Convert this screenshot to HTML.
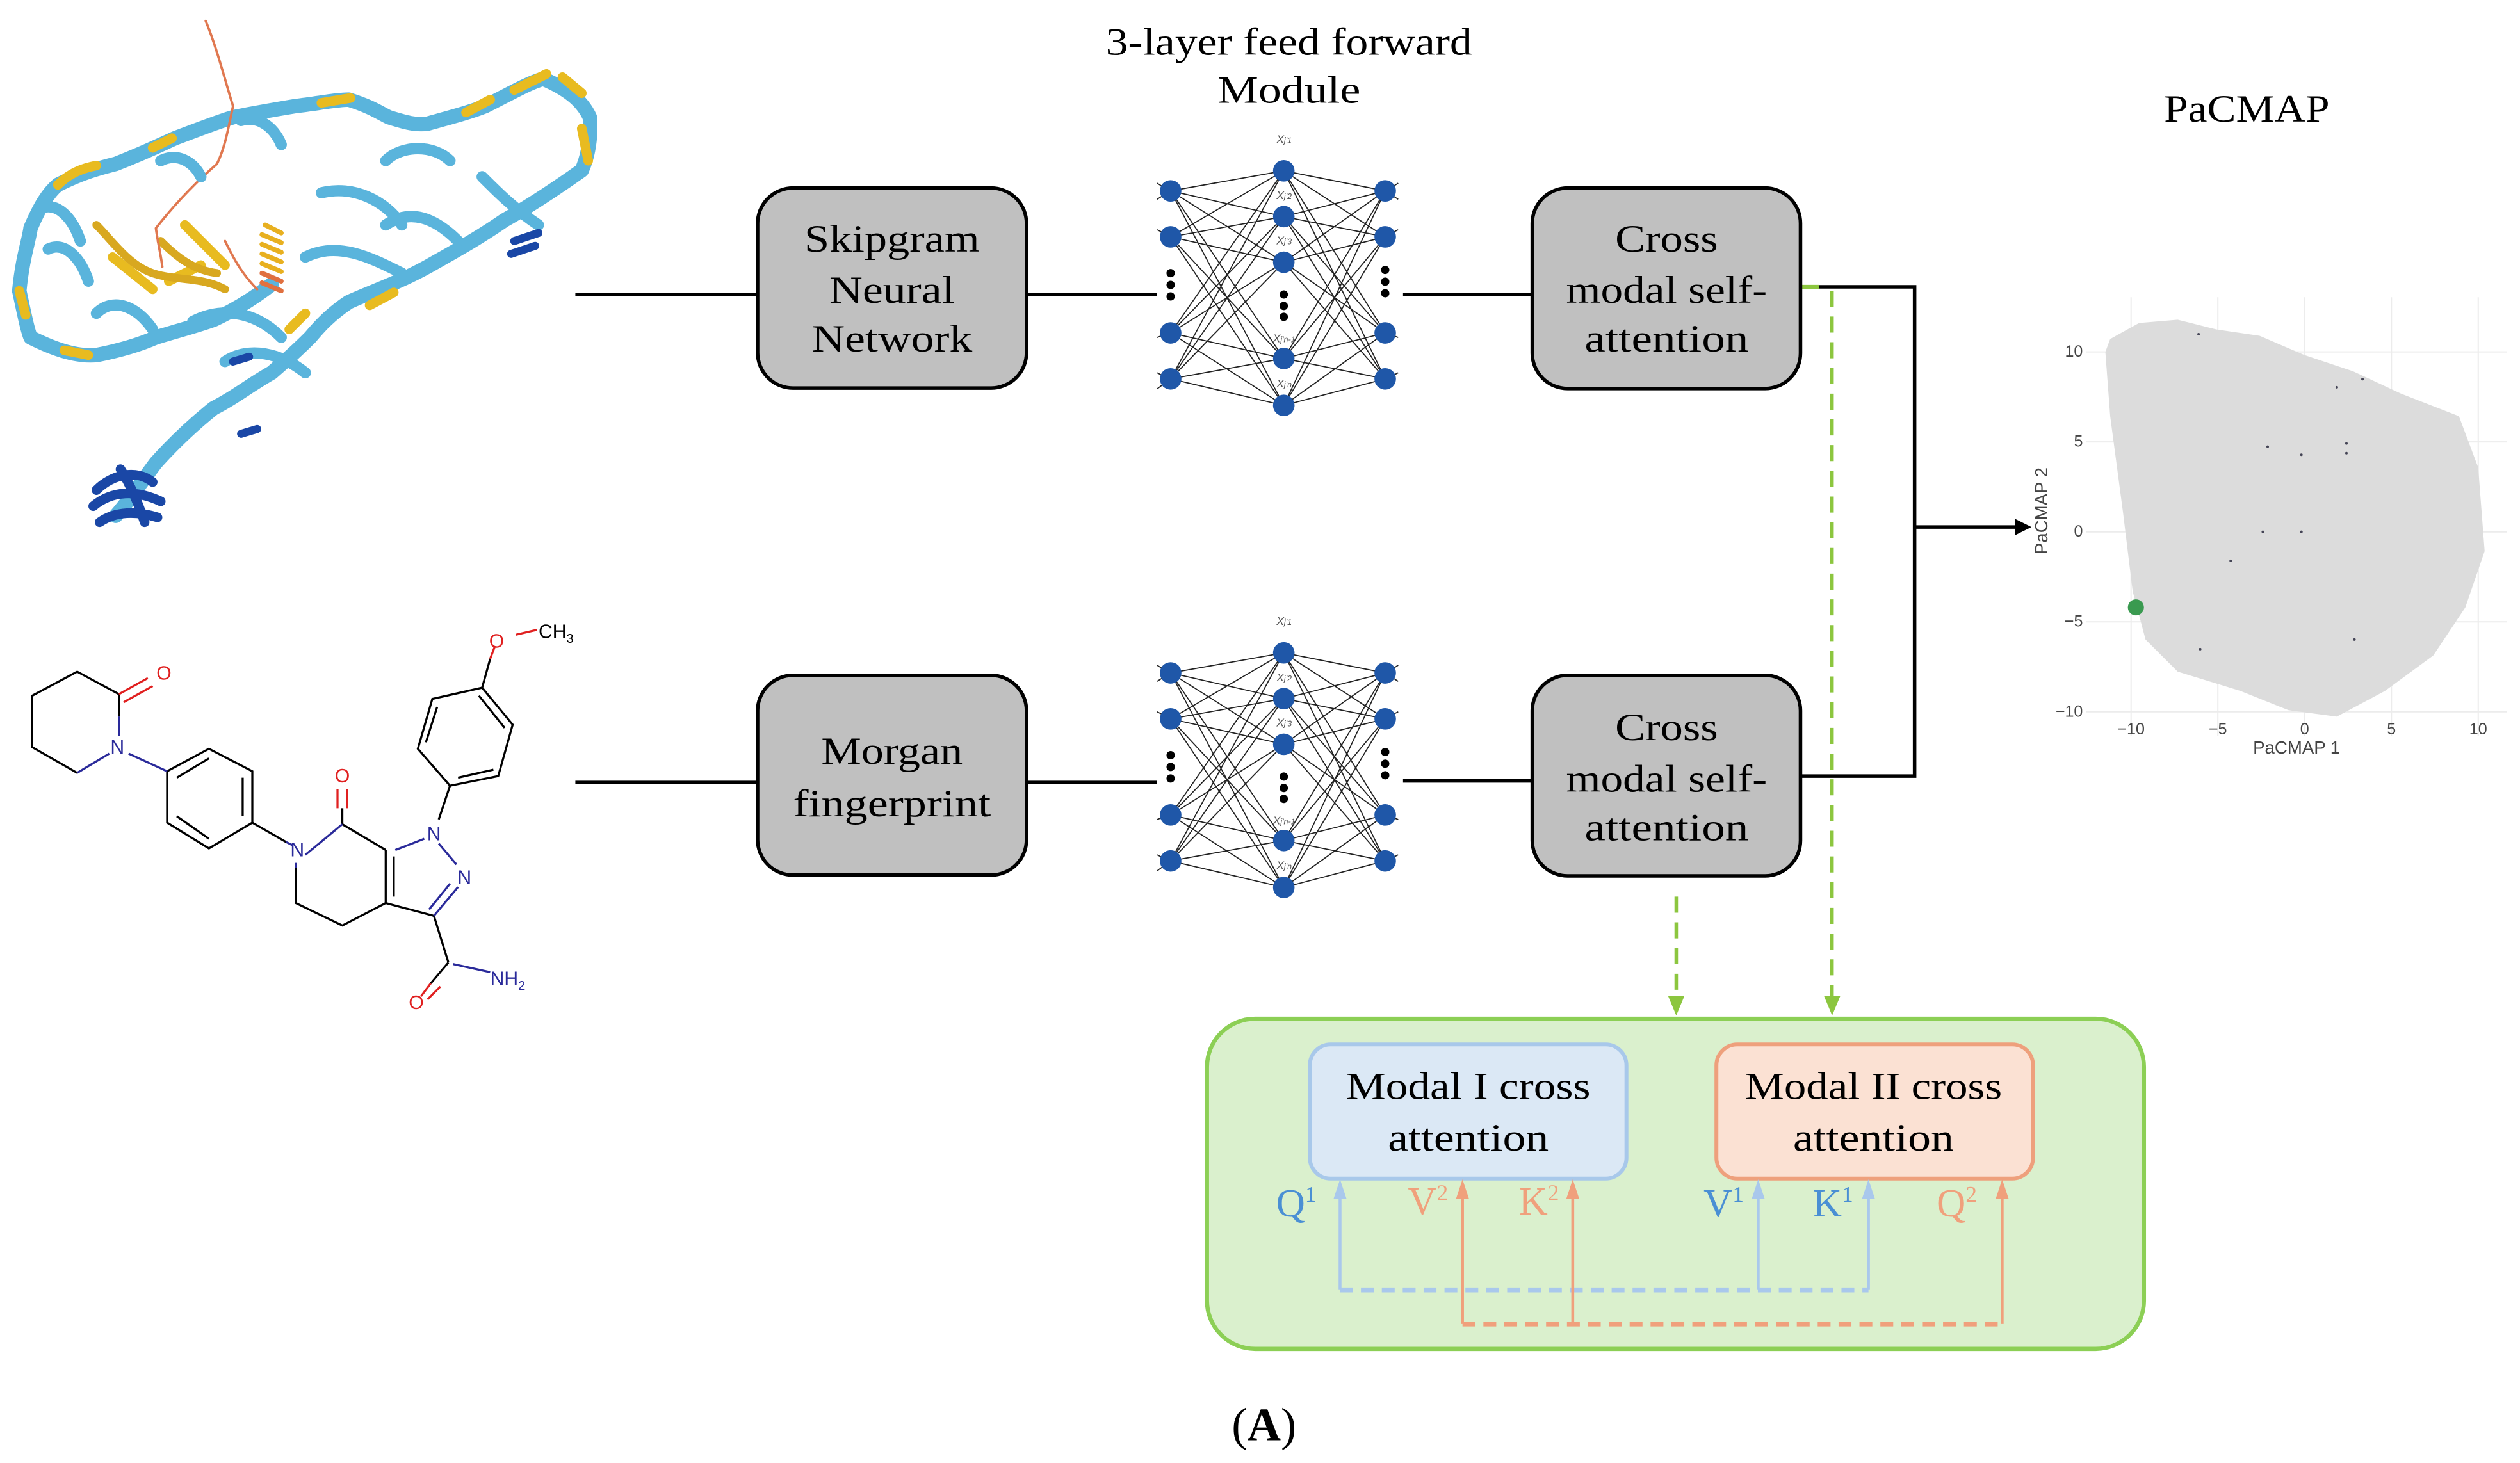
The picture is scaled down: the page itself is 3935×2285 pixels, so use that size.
<!DOCTYPE html>
<html><head><meta charset="utf-8"><style>
html,body{margin:0;padding:0;background:#fff;}
svg{display:block;}
.serif{font-family:"Liberation Serif",serif;}
.sans{font-family:"Liberation Sans",sans-serif;}
</style></head><body>
<svg width="3935" height="2285" viewBox="0 0 1568 910.5" xmlns="http://www.w3.org/2000/svg">
<defs>
<marker id="ab" markerWidth="10" markerHeight="10" refX="8" refY="5" orient="auto" markerUnits="userSpaceOnUse"><path d="M0,0 L10,5 L0,10 z" fill="#000"/></marker>
</defs>
<rect width="1568" height="910.5" fill="#fff"/>

<!-- Protein (approximation) -->
<g fill="none" stroke-linecap="round" stroke-linejoin="round">
<path d="M12,181 C14,160 18,150 19,142 C25,128 30,120 36,115 C50,108 60,105 72,102 C90,95 100,90 109,86 C125,80 135,76 145,73 C160,70 172,68 184,66 C200,64 210,62 217,62 C230,66 236,70 242,73 C252,76 258,78 266,77 C280,73 292,70 302,66 C318,58 328,52 338,49 C352,55 362,62 367,73 C368,85 366,97 362,106 C345,118 330,128 314,137 C295,150 280,158 266,166 C248,176 230,182 217,188 C205,196 198,204 193,210 C185,218 176,226 169,232 C155,240 145,248 133,254 C118,266 106,278 97,288 C88,300 80,312 72,321" stroke="#5ab4dc" stroke-width="9"/>
<path d="M12,181 C15,195 17,205 19,210 C35,218 48,222 60,221 C75,218 88,214 97,210 C110,206 122,203 133,199 C148,192 160,184 169,177" stroke="#5ab4dc" stroke-width="9"/>
<path d="M36,115 C45,106 55,104 60,103 M95,92 l12,-6 M200,64 l18,-3 M290,70 l15,-8 M320,56 l20,-10 M350,48 l12,10 M362,80 l4,20 M12,181 l4,15 M40,218 l15,3 M180,205 l10,-10 M230,190 l15,-8 M70,160 l25,20 M105,175 l20,-10 M115,140 l25,25" stroke="#e8bb20" stroke-width="6"/>
<path d="M60,140 C70,150 80,165 95,170 C110,175 125,172 140,180 M100,150 C110,160 120,168 135,170" stroke="#d8a820" stroke-width="5"/>
<path d="M128,13 C135,30 140,50 145,66 C142,80 140,92 135,102 C120,115 108,128 97,142 C98,150 100,158 101,166 M140,150 C145,160 150,170 160,180" stroke="#e07850" stroke-width="1.5"/>
<path d="M165,140 l10,5 M163,146 l12,5 M163,152 l12,5 M163,158 l12,5 M163,164 l12,5" stroke="#e8b020" stroke-width="3"/>
<path d="M163,170 l12,5 M163,176 l12,5" stroke="#e07040" stroke-width="3"/>
<path d="M200,120 C220,115 240,125 250,140 M190,160 C210,150 230,160 250,170 M240,100 C250,90 270,90 280,100 M300,110 C310,120 320,130 335,140 M120,200 C140,190 160,195 175,210 M140,225 C155,215 175,220 190,232 M60,195 C70,185 85,190 95,205 M25,130 C35,125 45,135 50,150 M30,155 C40,150 50,160 55,175 M100,100 C110,95 120,100 125,110 M150,75 C160,72 170,78 175,90 M240,140 C255,130 270,135 285,150"
 stroke="#5ab4dc" stroke-width="7"/>
<path d="M60,305 C70,295 85,292 95,300 M58,315 C70,305 85,305 100,312 M62,325 C72,318 85,318 98,322 M75,292 C80,300 85,310 90,325" stroke="#1a47a6" stroke-width="6"/>
<path d="M320,150 l15,-5 M318,158 l15,-5 M145,225 l10,-3 M150,270 l10,-3" stroke="#1a47a6" stroke-width="5"/>
</g>

<!-- Molecule -->
<g fill="none" stroke-width="1.3">
<g stroke="#000">
<path d="M48,418 L74,432 M48,418 L20,433 L20,465 L48,481"/>
<path d="M74,432 L74,446"/>
<path d="M104,480 L130,466 L157,480 L157,512 L130,528 L104,512 Z"/>
<path d="M110,484 L130,472 M151,484 L151,508 M110,508 L130,522"/>
<path d="M157,512 L178,524"/>
<path d="M213,513 L240,529 M240,529 L240,562 M245,533 L245,558 M240,562 L270,570 M240,562 L213,576 L184,562 L184,540"/>
<path d="M213,513 L213,503"/>
<path d="M270,570 L279,599"/>
<path d="M280,489 L310,483 L319,451 L300,428 L269,435 L260,466 Z"/>
<path d="M285,484 L307,479 M314,453 L298,433 M265,462 L272,440"/>
<path d="M300,428 L305,410 M280,489 L273,510"/>
<path d="M279,599 L268,612"/>
</g>
<g stroke="#e02020">
<path d="M74,432 L92,422 M77,437 L95,427 M210,503 L210,491 M216,503 L216,491 M305,410 L308,402 M268,612 L262,620 M274,614 L266,622"/>
<path d="M321,395 L334,392"/>
</g>
<g stroke="#2a2a9a">
<path d="M74,446 L74,458 M68,469 L48,481 M80,469 L104,480 M190,532 L213,513 M178,524 L182,526 M184,540 L184,537 M246,529 L264,522 M273,525 L284,538 M285,552 L270,570 M280,550 L267,566 M282,600 L305,605"/>
</g>
<g class="sans" font-size="12" text-anchor="middle">
<text x="73" y="469" fill="#2a2a9a">N</text>
<text x="102" y="423" fill="#e02020">O</text>
<text x="185" y="533" fill="#2a2a9a">N</text>
<text x="213" y="487" fill="#e02020">O</text>
<text x="270" y="523" fill="#2a2a9a">N</text>
<text x="289" y="550" fill="#2a2a9a">N</text>
<text x="309" y="403" fill="#e02020">O</text>
<text x="346" y="397" fill="#000">CH<tspan font-size="8" dy="3">3</tspan></text>
<text x="259" y="628" fill="#e02020">O</text>
<text x="316" y="613" fill="#2a2a9a">NH<tspan font-size="8" dy="3">2</tspan></text>
</g>
</g>

<!-- connector lines -->
<g stroke="#000" stroke-width="2.2" fill="none">
<line x1="358" y1="183.3" x2="471" y2="183.3"/>
<line x1="639" y1="183.3" x2="720" y2="183.3"/>
<line x1="873" y1="183.3" x2="953" y2="183.3"/>
<line x1="358" y1="487" x2="471" y2="487"/>
<line x1="639" y1="487" x2="720" y2="487"/>
<line x1="873" y1="486" x2="953" y2="486"/>
<polyline points="1131,178.5 1191.3,178.5 1191.3,483 1120,483"/>
<line x1="1191.3" y1="328" x2="1262" y2="328" marker-end="url(#ab)"/>
</g>
<line x1="1120" y1="178.5" x2="1132" y2="178.5" stroke="#8cc63f" stroke-width="2.5"/>

<!-- boxes -->
<g fill="#c0c0c0" stroke="#000" stroke-width="2.2">
<rect x="471.4" y="117" width="167.3" height="124.5" rx="22"/>
<rect x="471.4" y="420.3" width="167.3" height="124.3" rx="22"/>
<rect x="953.4" y="117" width="166.9" height="124.8" rx="22"/>
<rect x="953.4" y="420.3" width="166.9" height="124.8" rx="22"/>
</g>
<g class="serif" font-size="24" text-anchor="middle" fill="#000">
<text x="555" y="156.6" textLength="109" lengthAdjust="spacingAndGlyphs">Skipgram</text>
<text x="555" y="188.5" textLength="78" lengthAdjust="spacingAndGlyphs">Neural</text>
<text x="555" y="218.8" textLength="100" lengthAdjust="spacingAndGlyphs">Network</text>
<text x="555" y="475.4" textLength="88" lengthAdjust="spacingAndGlyphs">Morgan</text>
<text x="555" y="508" textLength="123" lengthAdjust="spacingAndGlyphs">fingerprint</text>
<text x="1037" y="156.6" textLength="64" lengthAdjust="spacingAndGlyphs">Cross</text>
<text x="1037" y="188.5" textLength="125" lengthAdjust="spacingAndGlyphs">modal self-</text>
<text x="1037" y="218.8" textLength="102" lengthAdjust="spacingAndGlyphs">attention</text>
<text x="1037" y="460.6" textLength="64" lengthAdjust="spacingAndGlyphs">Cross</text>
<text x="1037" y="492.7" textLength="125" lengthAdjust="spacingAndGlyphs">modal self-</text>
<text x="1037" y="522.9" textLength="102" lengthAdjust="spacingAndGlyphs">attention</text>
<text x="802" y="34" textLength="228" lengthAdjust="spacingAndGlyphs">3-layer feed forward</text>
<text x="802" y="64" textLength="89" lengthAdjust="spacingAndGlyphs">Module</text>
<text x="1398" y="75.7" textLength="103" lengthAdjust="spacingAndGlyphs">PaCMAP</text>
</g>

<!-- Neural nets -->
<g id="nn">
<g stroke="#222" stroke-width="0.7">
<path d="M728.4,118.8 L798.8,106.3 M728.4,118.8 L798.8,134.8 M728.4,118.8 L798.8,163.2 M728.4,118.8 L798.8,223.1 M728.4,118.8 L798.8,252.3
M728.4,147.4 L798.8,106.3 M728.4,147.4 L798.8,134.8 M728.4,147.4 L798.8,163.2 M728.4,147.4 L798.8,223.1 M728.4,147.4 L798.8,252.3
M728.4,207.2 L798.8,106.3 M728.4,207.2 L798.8,134.8 M728.4,207.2 L798.8,163.2 M728.4,207.2 L798.8,223.1 M728.4,207.2 L798.8,252.3
M728.4,235.8 L798.8,106.3 M728.4,235.8 L798.8,134.8 M728.4,235.8 L798.8,163.2 M728.4,235.8 L798.8,223.1 M728.4,235.8 L798.8,252.3
M861.9,118.8 L798.8,106.3 M861.9,118.8 L798.8,134.8 M861.9,118.8 L798.8,163.2 M861.9,118.8 L798.8,223.1 M861.9,118.8 L798.8,252.3
M861.9,147.4 L798.8,106.3 M861.9,147.4 L798.8,134.8 M861.9,147.4 L798.8,163.2 M861.9,147.4 L798.8,223.1 M861.9,147.4 L798.8,252.3
M861.9,207.2 L798.8,106.3 M861.9,207.2 L798.8,134.8 M861.9,207.2 L798.8,163.2 M861.9,207.2 L798.8,223.1 M861.9,207.2 L798.8,252.3
M861.9,235.8 L798.8,106.3 M861.9,235.8 L798.8,134.8 M861.9,235.8 L798.8,163.2 M861.9,235.8 L798.8,223.1 M861.9,235.8 L798.8,252.3
M720,114 L728,119 M720,124 L728,119 M720,143 L728,147 M720,210 L728,207 M720,232 L728,236 M720,242 L728,236
M870,114 L862,119 M870,124 L862,119 M870,143 L862,147 M870,210 L862,207 M870,232 L862,236"/>
</g>
<g fill="#1f57a8">
<circle cx="728.4" cy="118.8" r="6.7"/><circle cx="728.4" cy="147.4" r="6.7"/><circle cx="728.4" cy="207.2" r="6.7"/><circle cx="728.4" cy="235.8" r="6.7"/>
<circle cx="798.8" cy="106.3" r="6.7"/><circle cx="798.8" cy="134.8" r="6.7"/><circle cx="798.8" cy="163.2" r="6.7"/><circle cx="798.8" cy="223.1" r="6.7"/><circle cx="798.8" cy="252.3" r="6.7"/>
<circle cx="861.9" cy="118.8" r="6.7"/><circle cx="861.9" cy="147.4" r="6.7"/><circle cx="861.9" cy="207.2" r="6.7"/><circle cx="861.9" cy="235.8" r="6.7"/>
</g>
<g fill="#000">
<circle cx="728.4" cy="170" r="2.6"/><circle cx="728.4" cy="177.3" r="2.6"/><circle cx="728.4" cy="184.5" r="2.6"/>
<circle cx="798.8" cy="183.3" r="2.6"/><circle cx="798.8" cy="190.4" r="2.6"/><circle cx="798.8" cy="197.2" r="2.6"/>
<circle cx="861.9" cy="168" r="2.6"/><circle cx="861.9" cy="175.3" r="2.6"/><circle cx="861.9" cy="182.5" r="2.6"/>
</g>
<g class="sans" font-size="7" font-style="italic" fill="#555" text-anchor="middle">
<text x="799" y="89">X<tspan font-size="5">j'1</tspan></text>
<text x="799" y="124">X<tspan font-size="5">j'2</tspan></text>
<text x="799" y="152">X<tspan font-size="5">j'3</tspan></text>
<text x="799" y="213">X<tspan font-size="5">j'n-1</tspan></text>
<text x="799" y="241">X<tspan font-size="5">j'n</tspan></text>
</g>
</g>
<use href="#nn" transform="translate(0,300)"/>

<!-- PaCMAP plot -->
<g>
<g stroke="#ececec" stroke-width="0.8">
<line x1="1326" y1="185" x2="1326" y2="458"/><line x1="1380" y1="185" x2="1380" y2="458"/><line x1="1434" y1="185" x2="1434" y2="458"/><line x1="1488" y1="185" x2="1488" y2="458"/><line x1="1542" y1="185" x2="1542" y2="458"/>
<line x1="1298" y1="219" x2="1560" y2="219"/><line x1="1298" y1="275" x2="1560" y2="275"/><line x1="1298" y1="331" x2="1560" y2="331"/><line x1="1298" y1="387" x2="1560" y2="387"/><line x1="1298" y1="443" x2="1560" y2="443"/>
</g>
<path d="M1313,211 L1331,201 L1355,199 L1379,205 L1406,209 L1434,221 L1464,231 L1494,245 L1530,259 L1542,291 L1546,343 L1534,378 L1514,408 L1484,430 L1454,446 L1424,442 L1394,430 L1355,418 L1335,398 L1327,368 L1321,319 L1313,259 L1310,219 Z" fill="#dcdcdc"/>
<g fill="#445">
<circle cx="1368" cy="208" r="0.8"/><circle cx="1470" cy="236" r="0.8"/><circle cx="1454" cy="241" r="0.8"/><circle cx="1411" cy="278" r="0.8"/><circle cx="1432" cy="283" r="0.8"/><circle cx="1460" cy="276" r="0.8"/><circle cx="1460" cy="282" r="0.8"/><circle cx="1408" cy="331" r="0.8"/><circle cx="1432" cy="331" r="0.8"/><circle cx="1388" cy="349" r="0.8"/><circle cx="1465" cy="398" r="0.8"/><circle cx="1369" cy="404" r="0.8"/>
</g>
<circle cx="1329" cy="378" r="5" fill="#3a9a50"/>
<g class="sans" font-size="10" fill="#444">
<text x="1296" y="222" text-anchor="end">10</text>
<text x="1296" y="278" text-anchor="end">5</text>
<text x="1296" y="334" text-anchor="end">0</text>
<text x="1296" y="390" text-anchor="end">−5</text>
<text x="1296" y="446" text-anchor="end">−10</text>
<g text-anchor="middle">
<text x="1326" y="457">−10</text><text x="1380" y="457">−5</text><text x="1434" y="457">0</text><text x="1488" y="457">5</text><text x="1542" y="457">10</text>
</g>
<text x="1429" y="469" text-anchor="middle" font-size="11">PaCMAP 1</text>
<text transform="translate(1274,318) rotate(-90)" text-anchor="middle" font-size="11">PaCMAP 2</text>
</g>
</g>

<!-- green dashed arrows -->
<g stroke="#8cc63f" stroke-width="2.2" fill="none" stroke-dasharray="10,6">
<line x1="1139.9" y1="181" x2="1139.9" y2="624"/>
<line x1="1043" y1="558" x2="1043" y2="624"/>
</g>
<path d="M1135,620 L1140,632 L1145,620 Z M1038,620 L1043,632 L1048,620 Z" fill="#8cc63f"/>

<!-- green container -->
<rect x="751" y="634" width="583" height="205.5" rx="30" fill="#daf0cd" stroke="#8ccf55" stroke-width="2.6"/>
<rect x="815" y="650" width="197" height="83.5" rx="13" fill="#dbe8f5" stroke="#a8c8ea" stroke-width="2.4"/>
<rect x="1068" y="650" width="197" height="83.5" rx="13" fill="#fbe1d3" stroke="#eea07c" stroke-width="2.4"/>
<g class="serif" font-size="24" text-anchor="middle" fill="#000">
<text x="913.6" y="684" textLength="152" lengthAdjust="spacingAndGlyphs">Modal I cross</text>
<text x="913.6" y="716" textLength="100" lengthAdjust="spacingAndGlyphs">attention</text>
<text x="1165.7" y="684" textLength="160" lengthAdjust="spacingAndGlyphs">Modal II cross</text>
<text x="1165.7" y="716" textLength="100" lengthAdjust="spacingAndGlyphs">attention</text>
</g>

<!-- QKV arrows -->
<g fill="none" stroke-width="1.8">
<g stroke="#a9c8ec">
<line x1="833.8" y1="802.8" x2="833.8" y2="744"/>
<line x1="1094" y1="802.8" x2="1094" y2="744"/>
<line x1="1162.6" y1="802.8" x2="1162.6" y2="744"/>
<line x1="833.8" y1="802.8" x2="1162.6" y2="802.8" stroke-dasharray="8,5" stroke-width="3"/>
</g>
<g stroke="#f0a07c">
<line x1="910" y1="824" x2="910" y2="744"/>
<line x1="978.6" y1="824" x2="978.6" y2="744"/>
<line x1="1245.8" y1="824" x2="1245.8" y2="744"/>
<line x1="910" y1="824" x2="1245.8" y2="824" stroke-dasharray="8,5" stroke-width="3"/>
</g>
</g>
<g fill="#a9c8ec"><path d="M829.8,746 L833.8,734 L837.8,746 Z M1090,746 L1094,734 L1098,746 Z M1158.6,746 L1162.6,734 L1166.6,746 Z"/></g>
<g fill="#f0a07c"><path d="M906,746 L910,734 L914,746 Z M974.6,746 L978.6,734 L982.6,746 Z M1241.8,746 L1245.8,734 L1249.8,746 Z"/></g>
<g class="serif" font-size="25">
<text x="794" y="757" fill="#4a8fd4">Q<tspan font-size="14" dy="-9">1</tspan></text>
<text x="876" y="756" fill="#f0a07c">V<tspan font-size="14" dy="-9">2</tspan></text>
<text x="945" y="756" fill="#f0a07c">K<tspan font-size="14" dy="-9">2</tspan></text>
<text x="1060" y="757" fill="#4a8fd4">V<tspan font-size="14" dy="-9">1</tspan></text>
<text x="1128" y="757" fill="#4a8fd4">K<tspan font-size="14" dy="-9">1</tspan></text>
<text x="1205" y="757" fill="#f0a07c">Q<tspan font-size="14" dy="-9">2</tspan></text>
</g>

<!-- caption -->
<text x="786.5" y="896.4" class="serif" font-size="29" text-anchor="middle" fill="#000">(<tspan font-weight="bold">A</tspan>)</text>
</svg>
</body></html>
